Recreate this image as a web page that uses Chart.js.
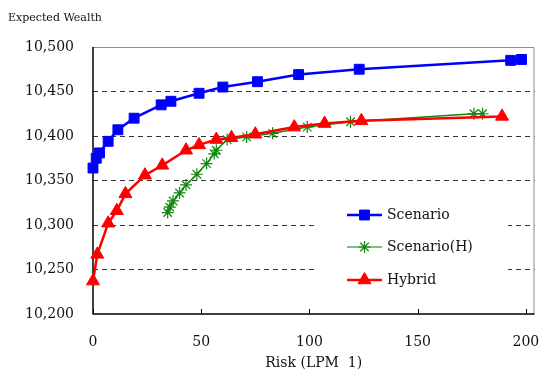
<!DOCTYPE html>
<html>
<head>
<meta charset="utf-8">
<script src="https://cdn.jsdelivr.net/npm/chart.js@4/dist/chart.umd.min.js"></script>
<style>
  html, body { margin: 0; padding: 0; background: #fff; }
  #wrap { width: 543px; height: 372px; }
</style>
</head>
<body>
<div id="wrap"><canvas id="myChart" width="543" height="372"></canvas></div>
<script>
// DATA
var riskScenario = [0, 1.5, 3, 7, 11.5, 19, 31.5, 36, 49, 60, 76, 95, 123, 193, 198];
var wealthScenario = [10364, 10375, 10381, 10394, 10407, 10420, 10435, 10439, 10448, 10455, 10461, 10469, 10475, 10485, 10486];

var riskScenarioH = [34.5, 35.5, 37, 40, 43, 48, 52.5, 56, 57, 62, 71, 83, 99, 119, 176, 180];
var wealthScenarioH = [10314, 10320, 10327, 10336, 10345, 10357, 10369, 10380, 10384, 10396, 10399, 10403, 10410, 10416, 10425, 10425];

var riskHybrid = [0, 2, 7, 11, 15, 24, 32, 43, 49, 57, 64, 75, 93, 107, 124, 189];
var wealthHybrid = [10237, 10267, 10302, 10316, 10335, 10356, 10367, 10384, 10390, 10396, 10398, 10402, 10410, 10414, 10417, 10422];

var seriesNames = ['Scenario', 'Scenario(H)', 'Hybrid'];
var yTitle = 'Expected Wealth';
var xTitle = 'Risk (LPM  1)';

function toPoints(xs, ys){
    var out = [];
    for (var i = 0; i < xs.length; i++) out.push({x: xs[i], y: ys[i]});
    return out;
}

var serif = "'DejaVu Serif', 'Liberation Serif', serif";

// plot frame, inward ticks, y title and legend box
var framePlugin = {
    id: 'frame',
    beforeDatasetsDraw: function(chart){
        var ctx = chart.ctx, a = chart.chartArea;
        var xs = chart.scales.x;
        ctx.save();
        // grey top and right border
        ctx.strokeStyle = '#8c8c8c';
        ctx.lineWidth = 1;
        ctx.beginPath();
        ctx.moveTo(a.left, a.top + 0.5);
        ctx.lineTo(a.right - 0.5, a.top + 0.5);
        ctx.lineTo(a.right - 0.5, a.bottom);
        ctx.stroke();
        // black left and bottom axis
        ctx.strokeStyle = '#000';
        ctx.lineWidth = 1.5;
        ctx.beginPath();
        ctx.moveTo(a.left, a.top);
        ctx.lineTo(a.left, a.bottom);
        ctx.lineTo(a.right, a.bottom);
        ctx.stroke();
        // inward tick marks on x axis
        ctx.lineWidth = 1;
        xs.ticks.forEach(function(t){
            var px = Math.round(xs.getPixelForValue(t.value)) + 0.5;
            ctx.beginPath();
            ctx.moveTo(px, a.bottom);
            ctx.lineTo(px, a.bottom - 5);
            ctx.stroke();
        });
        ctx.restore();
    },
    afterDraw: function(chart){
        var ctx = chart.ctx;
        ctx.save();
        // y title above axis
        ctx.fillStyle = '#111';
        ctx.font = '11px ' + serif;
        ctx.textBaseline = 'middle';
        ctx.textAlign = 'left';
        ctx.fillText(yTitle, 8, 18);

        // legend
        ctx.fillStyle = '#fff';
        ctx.fillRect(314, 197, 194, 94);
        var rows = [215, 247, 280];
        chart.data.datasets.forEach(function(ds, i){
            var y = rows[i];
            ctx.strokeStyle = ds.legendLine || ds.borderColor;
            ctx.lineWidth = ds.borderWidth;
            ctx.beginPath();
            ctx.moveTo(347, y);
            ctx.lineTo(382, y);
            ctx.stroke();
            if (Chart.helpers && Chart.helpers.drawPoint) {
                ctx.fillStyle = ds.pointBackgroundColor;
                ctx.strokeStyle = ds.pointBorderColor;
                ctx.lineWidth = ds.pointBorderWidth;
                Chart.helpers.drawPoint(ctx, {
                    pointStyle: ds.pointStyle,
                    radius: ds.pointRadius,
                    rotation: 0,
                    borderWidth: ds.pointBorderWidth
                }, 364.5, y);
            }
            ctx.fillStyle = '#111';
            ctx.font = '14px ' + serif;
            ctx.textAlign = 'left';
            ctx.textBaseline = 'middle';
            ctx.fillText(ds.label, 387, y);
        });
        ctx.restore();
    }
};

var ctx = document.getElementById('myChart').getContext('2d');
var chart = new Chart(ctx, {
    type: 'scatter',
    data: {
        datasets: [{
            label: seriesNames[0],
            data: toPoints(riskScenario, wealthScenario),
            showLine: true,
            clip: false,
            borderColor: '#0000ff',
            backgroundColor: '#0000ff',
            borderWidth: 2.5,
            pointStyle: 'rect',
            pointRadius: 7,
            pointBackgroundColor: '#0000ff',
            pointBorderColor: '#0000ff',
            pointBorderWidth: 1,
            order: 3
        }, {
            label: seriesNames[1],
            data: toPoints(riskScenarioH, wealthScenarioH),
            showLine: true,
            clip: false,
            borderColor: '#118811',
            legendLine: '#4caf4c',
            backgroundColor: '#118811',
            borderWidth: 1.5,
            pointStyle: 'star',
            pointRadius: 6,
            pointBackgroundColor: '#118811',
            pointBorderColor: '#118811',
            pointBorderWidth: 1.2,
            order: 2
        }, {
            label: seriesNames[2],
            data: toPoints(riskHybrid, wealthHybrid),
            showLine: true,
            clip: false,
            borderColor: '#ff0000',
            backgroundColor: '#ff0000',
            borderWidth: 2.5,
            pointStyle: 'triangle',
            pointRadius: 7.5,
            pointBackgroundColor: '#ff0000',
            pointBorderColor: '#ff0000',
            pointBorderWidth: 1,
            order: 1
        }]
    },
    options: {
        responsive: false,
        animation: false,
        layout: { padding: { top: 47, right: 5, left: 0, bottom: 0 } },
        plugins: {
            legend: { display: false },
            tooltip: { enabled: false }
        },
        scales: {
            x: {
                type: 'linear',
                min: 0,
                max: 204,
                border: { display: false },
                grid: { display: false, drawTicks: false },
                ticks: {
                    stepSize: 50,
                    includeBounds: false,
                    padding: 20,
                    color: '#111',
                    font: { family: serif, size: 14 }
                },
                title: {
                    display: true,
                    text: xTitle,
                    color: '#111',
                    padding: { top: 2, bottom: 0 },
                    font: { family: serif, size: 14 }
                },
                afterFit: function(s){
                    s.height = 58;
                    s.paddingRight = 0;
                    s.paddingLeft = 0;
                }
            },
            y: {
                min: 10200,
                max: 10500,
                border: {
                    display: false,
                    dash: function(c){
                        return (c.tick && c.tick.value > 10200 && c.tick.value < 10500) ? [5, 4] : [];
                    }
                },
                grid: {
                    drawTicks: false,
                    color: function(c){
                        if (!c.tick) return 'rgba(0,0,0,0)';
                        if (c.tick.value <= 10200 || c.tick.value >= 10500) return 'rgba(0,0,0,0)';
                        return '#333';
                    }
                },
                ticks: {
                    stepSize: 50,
                    padding: 19,
                    color: '#111',
                    font: { family: serif, size: 14 }
                },
                afterFit: function(s){
                    s.width = 93;
                    s.paddingTop = 0;
                    s.paddingBottom = 0;
                }
            }
        }
    },
    plugins: [framePlugin]
});
</script>
</body>
</html>
